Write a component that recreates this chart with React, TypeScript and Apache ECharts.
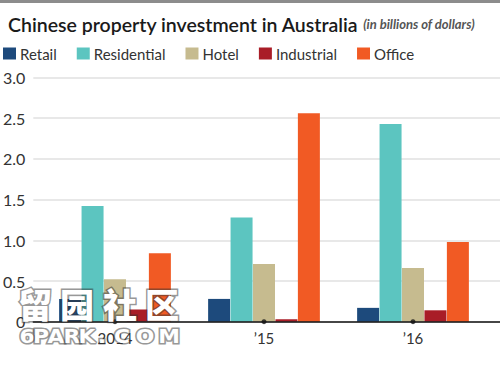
import React, { useEffect, useRef } from "react";
import * as echarts from "echarts";

const categories = ["2014", "\u201915", "\u201916"];
const retail = [0.28, 0.28, 0.17];
const residential = [1.42, 1.28, 2.43];
const hotel = [0.52, 0.71, 0.66];
const industrial = [0.15, 0.03, 0.14];
const office = [0.84, 2.56, 0.98];
const seriesNames = ["Retail", "Residential", "Hotel", "Industrial", "Office"];
const colors = ["#1d4a7c", "#5cc5c0", "#c6bb8f", "#a91d27", "#f15a24"];

const FONT = "Lato, 'Open Sans', sans-serif";

export default function App() {
  const ref = useRef<HTMLDivElement>(null);
  useEffect(() => {
    if (!ref.current) return;
    const chart = echarts.init(ref.current, undefined, { renderer: "svg" });
    const values = [retail, residential, hotel, industrial, office];
    const top = 77.5;
    const bottom = 57.3;
    const wmChars = ["留", "园", "社", "区"];
    const wmX = [35, 77, 120, 162];
    const latin = ["6", "P", "A", "R", "K", ".", "C", "O", "M"];
    const latinX = [27, 41, 56, 72, 87, 102, 122, 145, 169];
    const wmStyle = {
      fill: "#ffffff",
      stroke: "rgba(50,50,50,0.5)",
      lineWidth: 3,
      align: "center",
      verticalAlign: "middle",
    };
    chart.setOption({
      animation: false,
      backgroundColor: "#ffffff",
      textStyle: { fontFamily: FONT },
      title: {
        left: 3,
        top: 9,
        text: "{a|Chinese property investment in Australia} {b|(in billions of dollars)}",
        textStyle: {
          rich: {
            a: { fontFamily: FONT, fontSize: 19.5, fontWeight: 600, color: "#1a1a1a" },
            b: { fontFamily: FONT, fontSize: 13, fontStyle: "italic", color: "#555" },
          },
        },
      },
      legend: {
        left: -2,
        top: 41,
        itemWidth: 13,
        itemHeight: 12,
        itemGap: 20,
        icon: "rect",
        textStyle: { fontFamily: FONT, fontSize: 15, color: "#333", padding: [0, 0, 0, -1] },
        data: seriesNames,
      },
      grid: [
        { left: 28, right: 0, top, bottom },
        { left: 40.5, right: 12.5, top, bottom },
      ],
      xAxis: [
        {
          gridIndex: 0,
          type: "category",
          data: [""],
          axisLine: { show: true, lineStyle: { color: "#111", width: 1.5 } },
          axisTick: { show: false },
          axisLabel: { show: false },
          z: 5,
        },
        {
          gridIndex: 1,
          type: "category",
          data: categories,
          axisLine: { show: false },
          axisTick: { show: false },
          axisLabel: { fontFamily: FONT, fontSize: 15, color: "#333", margin: 9 },
        },
      ],
      yAxis: [
        {
          gridIndex: 0,
          type: "value",
          min: 0,
          max: 3,
          interval: 0.5,
          axisLine: { show: false },
          axisTick: { show: false },
          splitLine: { lineStyle: { color: "#e0e0e0", width: 1.5 } },
          axisLabel: {
            fontFamily: FONT,
            fontSize: 16,
            color: "#333",
            margin: 8,
            formatter: (v: number) => (v === 0 ? "0" : v.toFixed(1)),
          },
        },
        {
          gridIndex: 1,
          type: "value",
          min: 0,
          max: 3,
          interval: 0.5,
          show: false,
          splitLine: { show: false },
        },
      ],
      series: [
        ...seriesNames.map((name, i) => ({
          name,
          type: "bar",
          xAxisIndex: 1,
          yAxisIndex: 1,
          data: values[i],
          barWidth: 22,
          barGap: "2%",
          itemStyle: { color: colors[i] },
        })),
        {
          type: "scatter",
          xAxisIndex: 1,
          yAxisIndex: 1,
          data: categories.map(() => 0),
          symbol: "circle",
          symbolSize: 5,
          itemStyle: { color: "#111" },
          z: 10,
          silent: true,
        },
      ],
      graphic: [
        { type: "rect", shape: { x: 0, y: 0, width: 500, height: 3 }, style: { fill: "#8c8c8c" } },
        ...wmChars.map((c, i) => ({
          type: "text",
          x: wmX[i],
          y: 303,
          z: 100,
          style: {
            ...wmStyle,
            text: c,
            fontFamily: "'Noto Sans CJK SC'",
            fontSize: 34,
            fontWeight: 900,
          },
        })),
        ...latin.map((c, i) => ({
          type: "text",
          x: latinX[i],
          y: 337,
          scaleX: 1.15,
          z: 100,
          style: {
            ...wmStyle,
            text: c,
            fontFamily: "'DejaVu Sans'",
            fontSize: 19,
            fontWeight: "bold",
          },
        })),
      ],
    });
    return () => chart.dispose();
  }, []);
  return <div ref={ref} style={{ width: 500, height: 379, position: "absolute", left: 0, top: 0 }} />;
}
